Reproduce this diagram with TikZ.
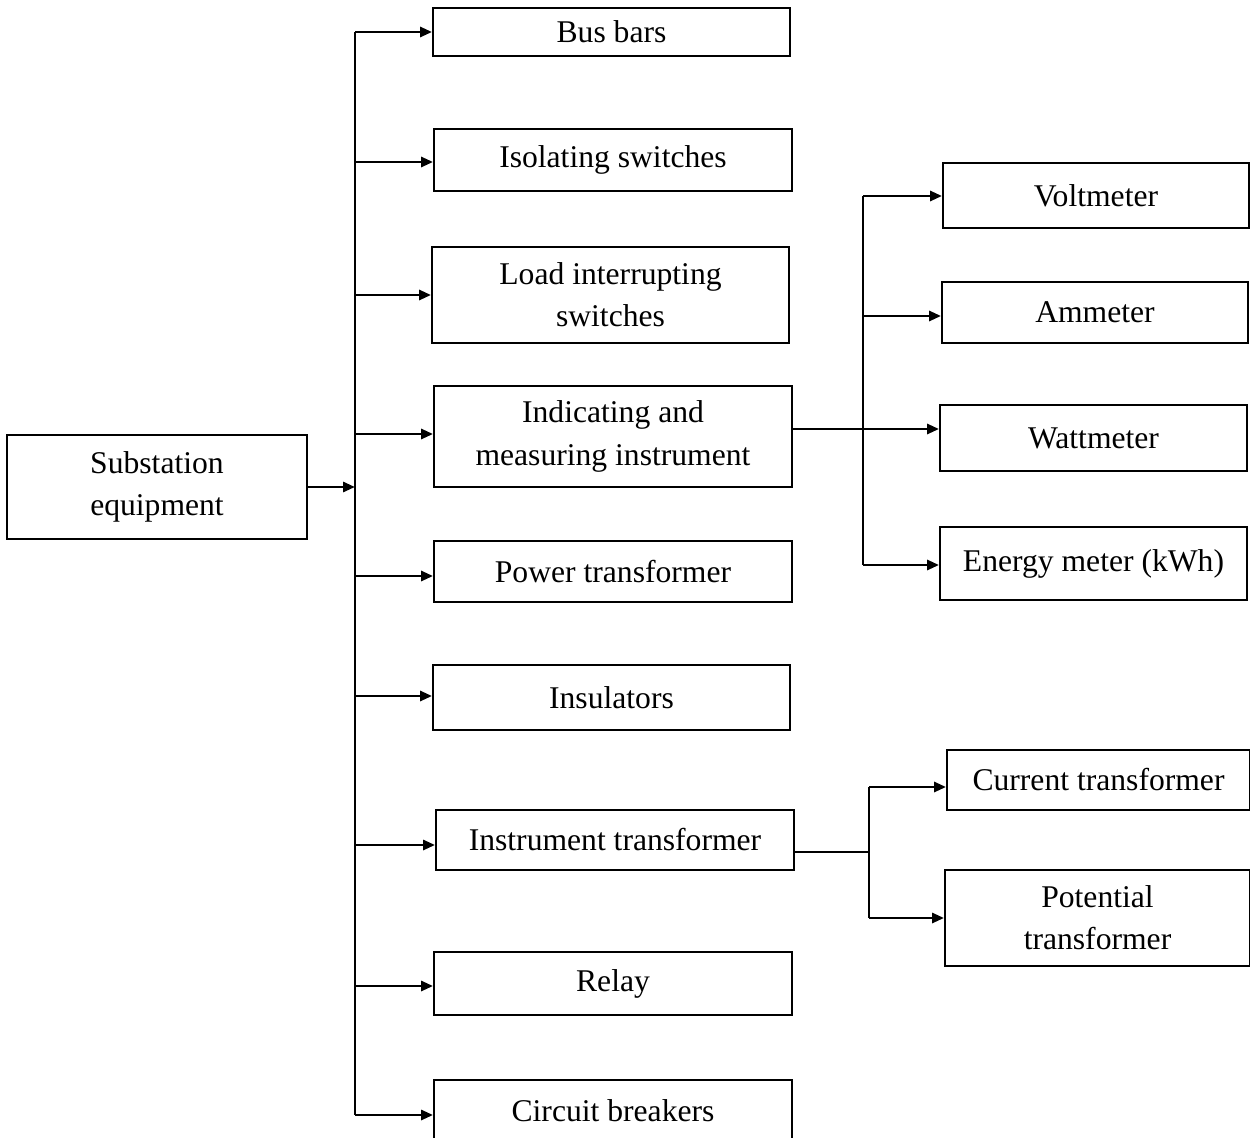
\documentclass[tikz,border=0pt]{standalone}
\usepackage{fontspec}
\setmainfont{Liberation Serif}
\usetikzlibrary{arrows.meta}
\begin{document}
\begin{tikzpicture}[x=0.02cm,y=-0.02cm,
  box/.style={draw, line width=1.1pt, inner sep=0pt, align=center,
    font=\fontsize{18}{24}\selectfont},
  arr/.style={line width=1.6pt, -{Triangle[length=0.24cm,width=0.2cm]}},
  ln/.style={line width=1.6pt},
  thinln/.style={line width=0.9pt}]
\useasboundingbox (0,0) rectangle (1250,1138);
\clip (0,0) rectangle (1250,1138);

% root
\node[box, minimum width=6cm, minimum height=2.08cm] (sub) at (157,487) {Substation\\equipment};

% first level
\node[box, minimum width=7.14cm, minimum height=0.96cm] (bus) at (611.5,32) {Bus bars};
\node[box, minimum width=7.16cm, minimum height=1.24cm] (iso) at (613,160) {Isolating switches};
\node[box, minimum width=7.14cm, minimum height=1.92cm] (load) at (610.5,295) {Load interrupting\\switches};
\node[box, minimum width=7.16cm, minimum height=2.02cm] (ind) at (613,436.5) {Indicating and\\measuring instrument};
\node[box, minimum width=7.16cm, minimum height=1.22cm] (pow) at (613,571.5) {Power transformer};
\node[box, minimum width=7.14cm, minimum height=1.30cm] (ins) at (611.5,697.5) {Insulators};
\node[box, minimum width=7.16cm, minimum height=1.20cm] (itr) at (615,840) {Instrument transformer};
\node[box, minimum width=7.16cm, minimum height=1.26cm] (rel) at (613,983.5) {Relay};
\node[box, minimum width=7.16cm, minimum height=1.24cm] (cb) at (613,1111) {Circuit breakers};

% instruments
\node[box, minimum width=6.12cm, minimum height=1.30cm] (volt) at (1096,195.5) {Voltmeter};
\node[box, minimum width=6.12cm, minimum height=1.22cm] (amm) at (1095,312.5) {Ammeter};
\node[box, minimum width=6.14cm, minimum height=1.32cm] (watt) at (1093.5,438) {Wattmeter};
\node[box, minimum width=6.14cm, minimum height=1.46cm] (energy) at (1093.5,563.5) {Energy meter (kWh)};

% instrument transformers
\node[box, minimum width=6.06cm, minimum height=1.20cm] (ct) at (1098.5,780) {Current transformer};
\node[box, minimum width=6.10cm, minimum height=1.92cm] (pt) at (1097.5,918) {Potential\\transformer};

% main spine
\coordinate (s1) at (355,32);
\coordinate (s2) at (355,162);
\coordinate (s3) at (355,295);
\coordinate (s4) at (355,434);
\coordinate (s5) at (355,576);
\coordinate (s6) at (355,696);
\coordinate (s7) at (355,845);
\coordinate (s8) at (355,986);
\coordinate (s9) at (355,1115);
\coordinate (sin) at (355,487);
\draw[ln] (s1) -- (s9);
\draw[arr] (sub.east |- sin) -- (sin);
\foreach \c/\b in {s1/bus, s2/iso, s3/load, s4/ind, s5/pow, s6/ins, s7/itr, s8/rel, s9/cb}
  \draw[arr] (\c) -- (\c -| \b.west);

% instruments branch
\coordinate (m1) at (863,196);
\coordinate (m2) at (863,316);
\coordinate (m3) at (863,429);
\coordinate (m4) at (863,565);
\draw[thinln] (ind.east |- m3) -- (m3);
\draw[ln] (m1) -- (m4);
\foreach \c/\b in {m1/volt, m2/amm, m3/watt, m4/energy}
  \draw[arr] (\c) -- (\c -| \b.west);

% instrument transformer branch
\coordinate (t0) at (869,852);
\coordinate (t1) at (869,787);
\coordinate (t2) at (869,918);
\draw[thinln] (itr.east |- t0) -- (t0);
\draw[ln] (t1) -- (t2);
\draw[arr] (t1) -- (t1 -| ct.west);
\draw[arr] (t2) -- (t2 -| pt.west);
\end{tikzpicture}
\end{document}
